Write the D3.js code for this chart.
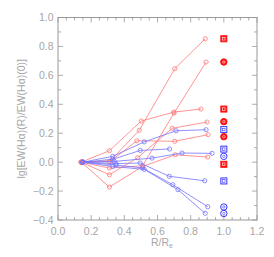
<!DOCTYPE html>
<html>
<head>
<meta charset="utf-8">
<script src="https://cdn.jsdelivr.net/npm/d3@7"></script>
<style>
  body { margin: 0; background: #fff; }
  text { font-family: "Liberation Sans", Arial, sans-serif; fill: #a6a6a6; }
</style>
</head>
<body>
<div id="chart"></div>
<script>
// profiles: each galaxy is a list of [R/Re, lg ratio]
var redProfiles = [
    [[0.14, 0], [0.31, 0.003], [0.49, 0.22], [0.704, 0.646], [0.888, 0.853]],
    [[0.14, 0], [0.31, -0.041], [0.51, -0.025], [0.70, 0.34], [0.893, 0.692]],
    [[0.14, 0], [0.31, 0.079], [0.502, 0.284], [0.698, 0.346], [0.862, 0.367]],
    [[0.14, 0], [0.31, -0.087], [0.48, 0.03], [0.688, 0.234], [0.899, 0.277]],
    [[0.14, 0], [0.32, 0.01], [0.476, 0.148], [0.704, 0.144], [0.905, 0.19]],
    [[0.14, 0], [0.31, -0.172], [0.51, -0.03], [0.707, 0.051], [0.903, 0.035]]
];
var blueProfiles = [
    [[0.15, 0], [0.33, 0.04], [0.52, 0.14], [0.712, 0.217], [0.893, 0.224]],
    [[0.15, 0], [0.33, 0.02], [0.496, 0.081], [0.673, 0.091]],
    [[0.15, 0], [0.34, 0.005], [0.567, 0.028], [0.748, 0.063], [0.929, 0.061]],
    [[0.15, 0], [0.35, -0.01], [0.496, -0.006], [0.671, -0.098], [0.885, -0.129]],
    [[0.15, 0], [0.35, -0.02], [0.51, -0.04], [0.692, -0.156], [0.903, -0.308]],
    [[0.15, 0], [0.33, -0.03], [0.52, -0.05], [0.723, -0.19], [0.888, -0.354]]
];
// symbols at R/Re = 1
var endValues = [0.853, 0.692, 0.367, 0.28, 0.225, 0.176, 0.09, 0.04, -0.015, -0.13, -0.31, -0.355];
var endColors = ["red", "red", "red", "red", "blue", "red", "blue", "blue", "red", "blue", "blue", "blue"];
var endShapes = ["square", "circle", "square", "circle", "square", "circle", "square", "circle", "square", "square", "circle", "circle"];
var xTicks = [0.0, 0.2, 0.4, 0.6, 0.8, 1.0, 1.2];
var yTicks = [-0.4, -0.2, 0.0, 0.2, 0.4, 0.6, 0.8, 1.0];

var width = 274, height = 257;
var margin = {top: 17.5, right: 17, bottom: 37, left: 58};

var svg = d3.select("#chart").append("svg")
    .attr("width", width)
    .attr("height", height);

var x = d3.scaleLinear().domain([0, 1.2]).range([margin.left, width - margin.right]);
var y = d3.scaleLinear().domain([-0.4, 1.0]).range([height - margin.bottom, margin.top]);

var axisColor = "#999";
var x0 = x.range()[0], x1 = x.range()[1], y0 = y.range()[0], y1 = y.range()[1];

// frame
svg.append("rect")
    .attr("x", x0).attr("y", y1)
    .attr("width", x1 - x0).attr("height", y0 - y1)
    .attr("fill", "none").attr("stroke", axisColor).attr("stroke-width", 1);

// ticks, inward, on all four sides
var xMinor = d3.range(0, 1.2001, 0.05);
var yMinor = d3.range(-0.4, 1.0001, 0.1);
function isMajor(v) { return Math.abs(v * 5 - Math.round(v * 5)) < 1e-6; }

var g = svg.append("g").attr("stroke", axisColor).attr("stroke-width", 0.8);
xMinor.forEach(function(v) {
    var len = isMajor(v) ? 5 : 3;
    g.append("line").attr("x1", x(v)).attr("x2", x(v)).attr("y1", y0).attr("y2", y0 - len);
    g.append("line").attr("x1", x(v)).attr("x2", x(v)).attr("y1", y1).attr("y2", y1 + len);
});
yMinor.forEach(function(v) {
    var len = isMajor(v) ? 5 : 3;
    g.append("line").attr("y1", y(v)).attr("y2", y(v)).attr("x1", x0).attr("x2", x0 + len);
    g.append("line").attr("y1", y(v)).attr("y2", y(v)).attr("x1", x1).attr("x2", x1 - len);
});

// tick labels
svg.selectAll(".xl").data(xTicks).enter().append("text")
    .attr("x", function(d) { return x(d); })
    .attr("y", y0 + 14.5)
    .attr("text-anchor", "middle")
    .attr("font-size", 10.5)
    .text(function(d) { return d3.format(".1f")(d); });

svg.selectAll(".yl").data(yTicks).enter().append("text")
    .attr("x", x0 - 4.5)
    .attr("y", function(d) { return y(d) + 3.7; })
    .attr("text-anchor", "end")
    .attr("font-size", 10.5)
    .text(function(d) { return d3.format(".1f")(d).replace("-", "\u2212"); });

// axis titles
var xt = svg.append("text")
    .attr("x", 151).attr("y", 246)
    .attr("font-size", 10.5);
xt.append("tspan").text("R/R");
xt.append("tspan").attr("font-size", 7).attr("dy", 2).text("e");

svg.append("text")
    .attr("transform", "translate(25," + ((y0 + y1) / 2) + ") rotate(-90)")
    .attr("text-anchor", "middle")
    .attr("font-size", 10.5)
    .text("lg[EW(H\u03b1)(R)/EW(H\u03b1)(0)]");

// profile lines
var line = d3.line()
    .x(function(d) { return x(d[0]); })
    .y(function(d) { return y(d[1]); });

function drawProfiles(data, color) {
    var gg = svg.append("g");
    data.forEach(function(p) {
        gg.append("path").attr("d", line(p))
            .attr("fill", "none").attr("stroke", color).attr("stroke-width", 0.8);
        gg.selectAll(null).data(p).enter().append("circle")
            .attr("cx", function(d) { return x(d[0]); })
            .attr("cy", function(d) { return y(d[1]); })
            .attr("r", 2.1)
            .attr("fill", "none").attr("stroke", color).attr("stroke-width", 0.8);
    });
}
drawProfiles(redProfiles, "#ff7878");
drawProfiles(blueProfiles, "#7373ff");

// symbols at R/Re = 1
var sg = svg.append("g");
endValues.forEach(function(v, i) {
    var cx = x(1.0), cy = y(v);
    var isRed = endColors[i] == "red";
    var col = isRed ? "#ff1010" : "#3535ff";
    if (endShapes[i] == "square") {
        sg.append("rect")
            .attr("x", cx - 3).attr("y", cy - 3).attr("width", 6).attr("height", 6)
            .attr("fill", isRed ? col : "none").attr("stroke", col).attr("stroke-width", 1);
        sg.append("rect")
            .attr("x", cx - 1.2).attr("y", cy - 1.3).attr("width", 2.4).attr("height", 2.6)
            .attr("fill", "none").attr("stroke", isRed ? "#fff" : col).attr("stroke-width", 0.6);
    } else {
        sg.append("circle")
            .attr("cx", cx).attr("cy", cy).attr("r", 3.2)
            .attr("fill", isRed ? col : "none").attr("stroke", col).attr("stroke-width", 1);
        sg.append("circle")
            .attr("cx", cx).attr("cy", cy).attr("r", 1.2)
            .attr("fill", "none").attr("stroke", isRed ? "#fff" : col).attr("stroke-width", 0.6);
    }
});
</script>
</body>
</html>
